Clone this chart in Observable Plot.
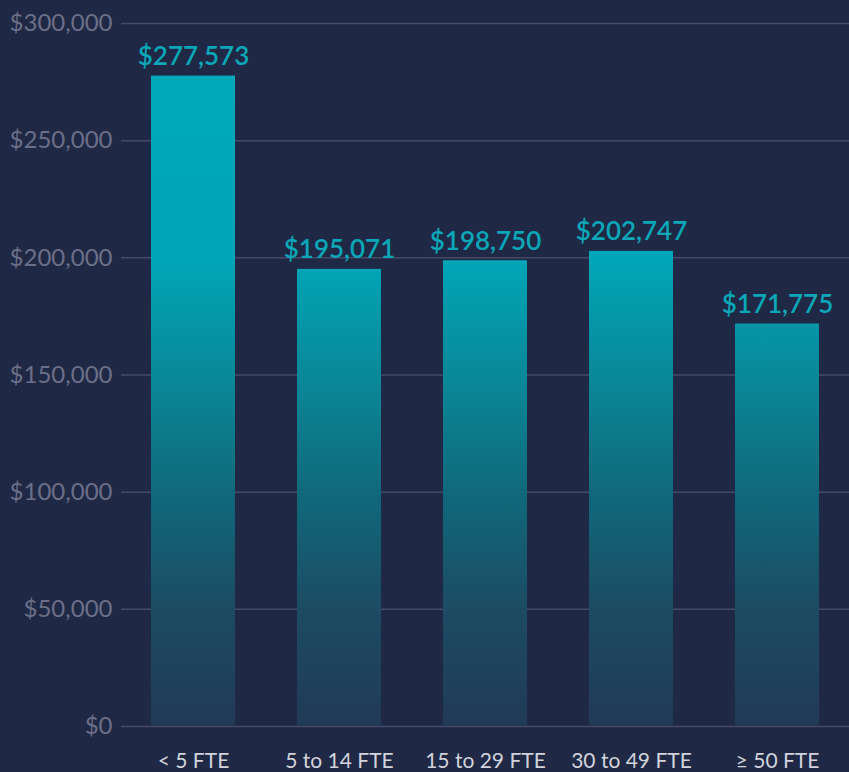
<!DOCTYPE html>
<html>
<head>
<meta charset="utf-8">
<script src="https://cdn.jsdelivr.net/npm/d3@7"></script>
<script src="https://cdn.jsdelivr.net/npm/@observablehq/plot@0.6"></script>
<style>
  html, body { margin: 0; padding: 0; background: #1f2945; }
  #chart svg { display: block; }
</style>
</head>
<body>
<div id="chart"></div>
<script>
const categories = ["< 5 FTE", "5 to 14 FTE", "15 to 29 FTE", "30 to 49 FTE", "≥ 50 FTE"];
const values = [277573, 195071, 198750, 202747, 171775];
const yTicks = [0, 50000, 100000, 150000, 200000, 250000, 300000];

const data = categories.map((c, i) => ({category: c, value: values[i]}));
const money = d3.format("$,");

const chart = Plot.plot({
  width: 849,
  height: 772,
  marginLeft: 121,
  marginRight: 0,
  marginTop: 23,
  marginBottom: 46,
  style: {background: "#1f2945", fontFamily: "Lato, sans-serif"},
  x: {domain: categories, paddingInner: 0.426, paddingOuter: 0.2, label: null},
  y: {domain: [0, 300000], ticks: yTicks, label: null},
  marks: [
    Plot.gridY(yTicks, {stroke: "#464a66", strokeOpacity: 1, strokeWidth: 1.5}),
    Plot.barY(data, {x: "category", y: "value", fill: "url(#barGrad)"}),
    Plot.text(data, {
      x: "category", y: "value", text: d => money(d.value),
      dy: -11, lineAnchor: "bottom", fill: "#0aa7b9",
      fontSize: 26, fontWeight: 600
    }),
    Plot.axisY(yTicks, {
      tickSize: 0, tickPadding: 9, tickFormat: money,
      fill: "#6c6f88", fontSize: 24, label: null
    }),
    Plot.axisX({
      tickSize: 0, tickPadding: 27, fill: "#d2d3dc", fontSize: 21, label: null
    })
  ]
});

const defs = d3.select(chart).insert("defs", ":first-child");
const grad = defs.append("linearGradient")
  .attr("id", "barGrad")
  .attr("gradientUnits", "userSpaceOnUse")
  .attr("x1", 0).attr("x2", 0).attr("y1", 23).attr("y2", 726);
[[0, "#00a8ba"], [0.337, "#00a6b7"], [0.502, "#098999"], [0.669, "#10697b"], [0.835, "#1c4b63"], [1, "#213a56"]]
  .forEach(([o, c]) => grad.append("stop").attr("offset", o).attr("stop-color", c));

document.getElementById("chart").appendChild(chart);
</script>
</body>
</html>
